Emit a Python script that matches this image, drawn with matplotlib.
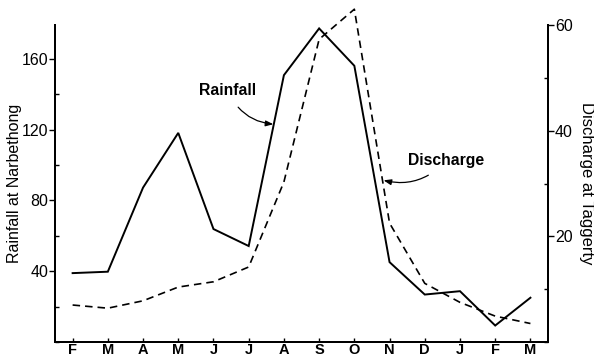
import matplotlib
matplotlib.use("Agg")
import matplotlib.pyplot as plt
from matplotlib.ticker import MultipleLocator

months = ["F", "M", "A", "M", "J", "J", "A", "S", "O", "N", "D", "J", "F", "M"]
rainfall = [38.9, 39.7, 87.2, 118.1, 63.8, 54.2, 150.7, 177.1, 156.0, 45.1, 26.8, 28.7, 9.3, 25.0]
discharge = [7.0, 6.4, 7.8, 10.4, 11.4, 14.2, 30.3, 57.3, 63.0, 22.5, 11.1, 7.5, 4.9, 3.5]
left_ticks = [40, 80, 120, 160]
right_ticks = [20, 40, 60]

plt.rcParams['font.family'] = ['Liberation Sans', 'DejaVu Sans']

fig = plt.figure(figsize=(5.94, 3.58), dpi=100)
ax = fig.add_axes([0.0926, 0.0447, 0.83, 0.8853])
ax2 = ax.twinx()

x = list(range(len(months)))
ax.plot(x, rainfall, color='black', lw=1.4, solid_joinstyle='miter', zorder=3)
ax2.plot(x, discharge, color='black', lw=1.2, linestyle=(0, (4.5, 3)), clip_on=False, zorder=3)

ax.set_xlim(-0.5, 13.5)
ax.set_ylim(0, 179)
ax2.set_ylim(0, 60)

ax.set_xticks(x)
ax.set_xticklabels(months, fontsize=10.5, fontweight='bold')
for lab in ax.get_xticklabels():
    lab.set_va('baseline')
ax.set_yticks(left_ticks)
ax.set_yticklabels([str(t) for t in left_ticks], fontsize=11.5)
ax.yaxis.set_minor_locator(MultipleLocator(20))
ax2.set_yticks(right_ticks)
ax2.set_yticklabels([str(t) for t in right_ticks], fontsize=11.5)
ax2.yaxis.set_minor_locator(MultipleLocator(10))

for a in (ax, ax2):
    a.spines['top'].set_visible(False)
    for s in a.spines.values():
        s.set_linewidth(1.4)
ax.tick_params(axis='y', which='major', length=4, width=1, pad=1, direction='out')
ax.tick_params(axis='y', which='minor', length=3, width=1, direction='in')
ax.tick_params(axis='x', length=3, width=1, pad=8.4, direction='in')
ax2.tick_params(axis='y', which='major', length=4, width=1, pad=1, direction='out')
ax2.tick_params(axis='y', which='minor', length=3, width=1, direction='in')

ax.set_ylabel("Rainfall at Narbethong", fontsize=11.5)
ax.yaxis.set_label_coords(-0.066, 0.5)
ax2.set_ylabel("Discharge at Taggerty", fontsize=12, rotation=270, labelpad=15)

ax.annotate("Rainfall", xy=(5.70, 123.0), xytext=(4.41, 142.2), fontsize=11.3,
            fontweight='bold', ha='center', va='center',
            arrowprops=dict(arrowstyle='-|>,head_length=0.4,head_width=0.15', color='black', lw=0.9,
                            connectionstyle='arc3,rad=0.3', shrinkA=6, shrinkB=0))
ax.annotate("Discharge", xy=(8.83, 91.3), xytext=(10.61, 102.6), fontsize=11.3,
            fontweight='bold', ha='center', va='center',
            arrowprops=dict(arrowstyle='-|>,head_length=0.4,head_width=0.15', color='black', lw=0.9,
                            connectionstyle='arc3,rad=-0.3', shrinkA=6, shrinkB=0))

fig.savefig("out.png", dpi=100)
